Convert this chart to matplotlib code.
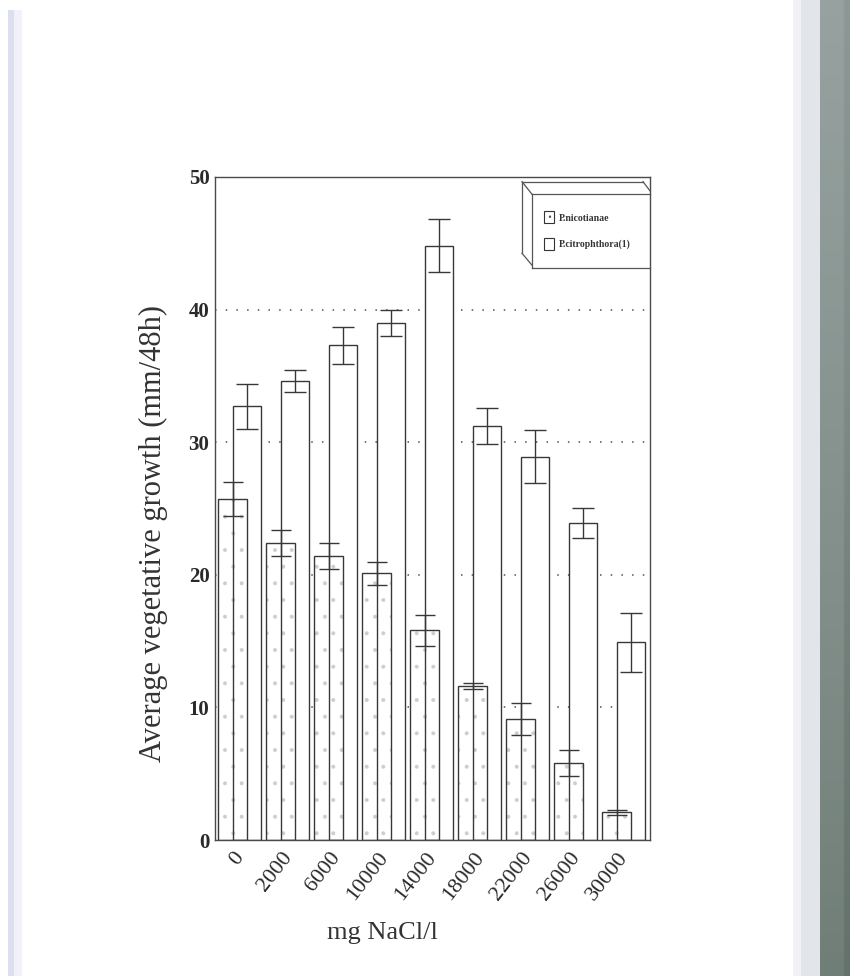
import numpy as np
import matplotlib
matplotlib.use("Agg")
import matplotlib.pyplot as plt
from matplotlib.patches import Rectangle, Patch

# NaCl concentrations and mean growth (mm/48h) with error half-widths
nacl = ["0", "2000", "6000", "10000", "14000", "18000", "22000", "26000", "30000"]
nicotianae = [25.7, 22.4, 21.4, 20.1, 15.8, 11.6, 9.1, 5.8, 2.1]
nicotianae_err = [1.3, 1.0, 1.0, 0.85, 1.15, 0.25, 1.2, 0.95, 0.2]
citrophthora = [32.7, 34.6, 37.3, 39.0, 44.8, 31.2, 28.9, 23.9, 14.9]
citrophthora_err = [1.7, 0.85, 1.4, 1.0, 2.0, 1.35, 2.0, 1.15, 2.2]
y_ticks = [0, 10, 20, 30, 40, 50]

plt.rcParams['font.family'] = ['Liberation Serif', 'DejaVu Serif']
plt.rcParams['hatch.color'] = '#cdcdcd'
plt.rcParams['hatch.linewidth'] = 0.4

fig = plt.figure(figsize=(8.5, 9.76), dpi=100)
fig.patch.set_facecolor('white')

# scanned page edges
fig.add_artist(Rectangle((8 / 850, 0), 6 / 850, 0.99, transform=fig.transFigure,
                         color='#dcdfef', lw=0))
fig.add_artist(Rectangle((14 / 850, 0), 8 / 850, 0.99, transform=fig.transFigure,
                         color='#f0f1f9', lw=0))
fig.add_artist(Rectangle((793 / 850, 0), 8 / 850, 1, transform=fig.transFigure,
                         color='#f0f2f7', lw=0))
fig.add_artist(Rectangle((801 / 850, 0), 19 / 850, 1, transform=fig.transFigure,
                         color='#e2e6eb', lw=0))
strip = fig.add_axes([820 / 850, 0, 30 / 850, 1])
grad = np.linspace(0, 1, 50)[:, None] * np.ones((1, 10))
grad[:, 8:] += 0.3
strip.imshow(grad, aspect='auto', cmap=matplotlib.colors.LinearSegmentedColormap.from_list(
    'edge', ['#97a2a0', '#808d88', '#64726b']), vmin=0, vmax=1.3)
strip.axis('off')

ax = fig.add_axes([215 / 850, 1 - 840 / 976, 435 / 850, 663 / 976])

x = np.arange(len(nacl))
w = 0.6
off = 0.15
edge = '#383838'

# white bodies first so the grid is hidden behind the bars
ax.bar(x + off, citrophthora, w, color='white', lw=0, zorder=2)
ax.bar(x - off, nicotianae, w, color='white', hatch='.', edgecolor='#cdcdcd', lw=0, zorder=2)
# outlines of both series stay visible where the bars overlap
ax.bar(x + off, citrophthora, w, fill=False, edgecolor=edge, lw=1.0, zorder=3)
ax.bar(x - off, nicotianae, w, fill=False, edgecolor=edge, lw=1.0, zorder=3)
ax.errorbar(x - off, nicotianae, yerr=nicotianae_err, fmt='none', ecolor=edge,
            elinewidth=1.0, capsize=7, capthick=1.0, zorder=4)
ax.errorbar(x + off, citrophthora, yerr=citrophthora_err, fmt='none', ecolor=edge,
            elinewidth=1.0, capsize=8, capthick=1.0, zorder=4)

ax.set_xlim(-0.515, 8.546)
ax.set_ylim(0, 50)
ax.set_yticks(y_ticks)
ax.set_yticklabels([str(t) for t in y_ticks], fontsize=15, fontweight='bold', color='#2a2a2a')
# labels sit a little right of the group centre (tick marks are hidden)
ax.set_xticks(x + 0.17)
ax.set_xticklabels(nacl, rotation=52, ha='right', fontsize=16, color='#2a2a2a')
ax.tick_params(axis='both', length=0)
ax.tick_params(axis='y', pad=4)
ax.tick_params(axis='x', pad=6)
for s in ax.spines.values():
    s.set_color('#4a4a4a')
    s.set_linewidth(1.0)

for v in y_ticks[1:-1]:
    ax.axhline(v, color='#505050', lw=1.1, ls=(0, (1, 6)), zorder=1)

ax.set_ylabel('Average vegetative growth (mm/48h)', fontsize=22, color='#333333')
ax.yaxis.set_label_coords(-0.142, 0.462)
ax.yaxis.label.set_va('center')
ax.set_xlabel('mg NaCl/l', fontsize=19, color='#333333')
ax.xaxis.set_label_coords(0.386, -0.140)
ax.xaxis.label.set_va('center')

# bevelled legend box
box = [
    ([0.7057, 0.984], [0.993, 0.993]),
    ([0.7057, 0.7057], [0.993, 0.885]),
    ([0.7057, 0.7287], [0.885, 0.867]),
    ([0.7057, 0.7287], [0.993, 0.974]),
    ([0.7287, 1.0], [0.974, 0.974]),
    ([0.7287, 0.7287], [0.974, 0.863]),
    ([0.7287, 1.0], [0.863, 0.863]),
    ([0.984, 1.0], [0.993, 0.979]),
]
for bx, by in box:
    ax.plot(bx, by, color='#555555', lw=0.9, transform=ax.transAxes, clip_on=False, zorder=5)

handles = [Patch(facecolor='white', edgecolor='#333333', hatch='..', lw=0.8, label='P.nicotianae'),
           Patch(facecolor='white', edgecolor='#333333', lw=0.8, label='P.citrophthora(1)')]
leg = ax.legend(handles=handles, loc='upper left', bbox_to_anchor=(0.756, 0.948),
                frameon=False, handlelength=1.0, handleheight=1.5,
                handletextpad=0.5, labelspacing=1.5, borderaxespad=0, borderpad=0,
                prop={'weight': 'bold', 'size': 7})
for t in leg.get_texts():
    t.set_color('#333333')

fig.savefig('out.png', dpi=100, facecolor=fig.get_facecolor())
